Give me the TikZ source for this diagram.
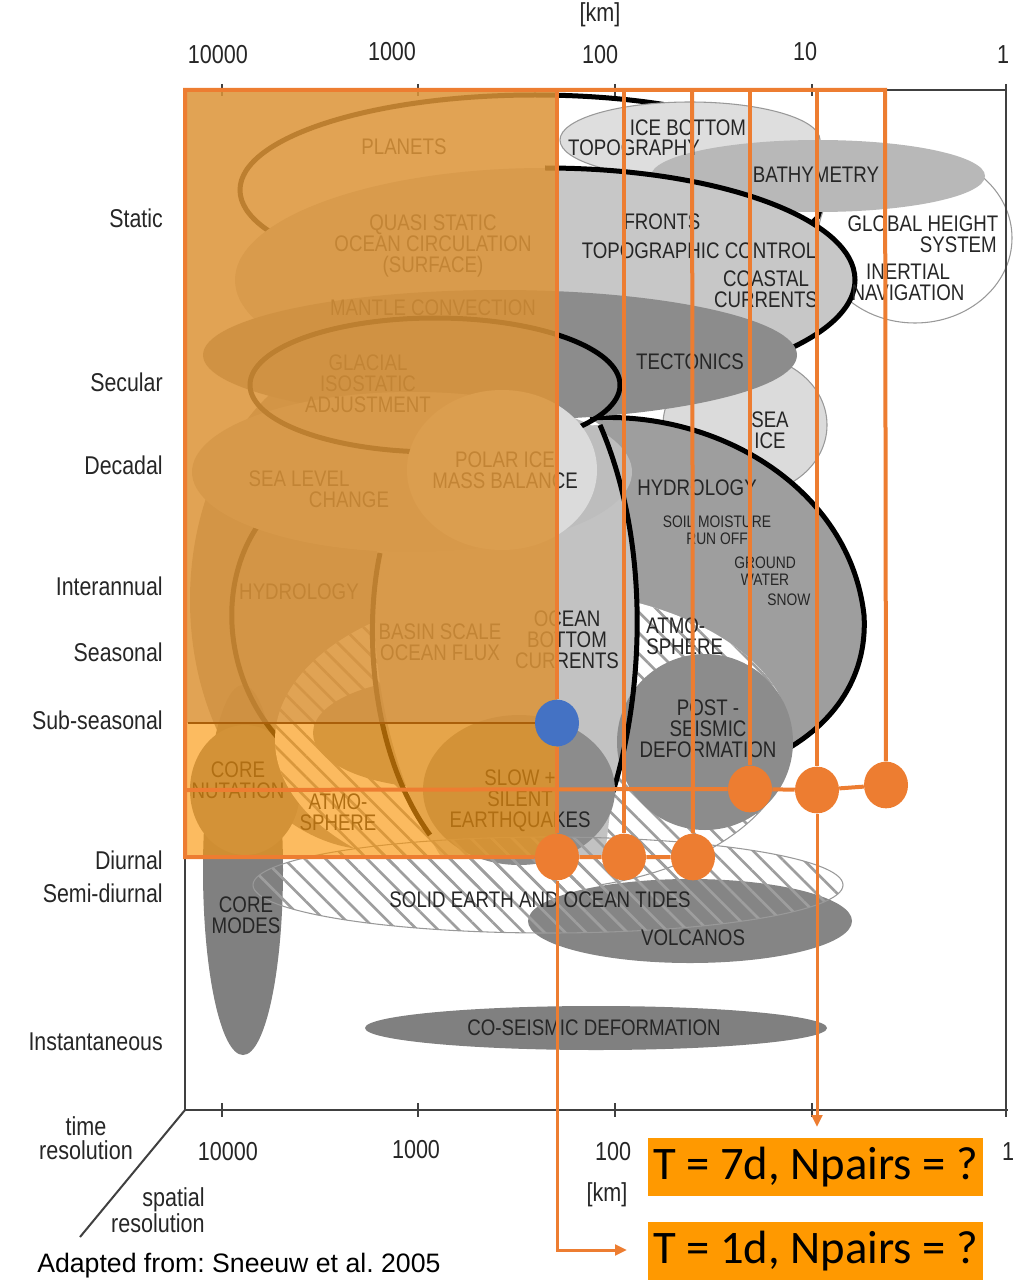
\documentclass[tikz,border=0pt]{standalone}
\usepackage{fontspec}
\setmainfont{Liberation Sans}[FakeStretch=0.83]
\newfontfamily\plainsans{Liberation Sans}
\newfontfamily\boxfont{Carlito}
\usetikzlibrary{arrows.meta,shapes.geometric,patterns.meta}
\frenchspacing

\definecolor{accent}{RGB}{237,125,49}
\definecolor{dotblue}{RGB}{68,114,196}
\definecolor{boxorange}{RGB}{255,153,0}
\definecolor{shadeup}{RGB}{220,148,56}
\definecolor{shadelow}{RGB}{250,150,10}
\definecolor{rimline}{RGB}{170,95,10}

\begin{document}
\begin{tikzpicture}[x=0.75pt,y=-0.75pt,>={Triangle[length=9pt,width=8pt]},
 lab/.style={font=\fontsize{16.9}{15.75}\selectfont,text=black!85,align=center,inner sep=0pt},
 small/.style={lab,font=\fontsize{12.5}{12.75}\selectfont},
 tres/.style={font=\fontsize{19.3}{22}\selectfont,text=black!85,anchor=east,inner sep=0pt},
 num/.style={font=\fontsize{19.5}{18}\selectfont,text=black!85,inner sep=0pt,align=center},
 rim/.style={draw=black!40,line width=0.8pt},
 fat/.style={draw=black,line width=3.75pt},
 hatch/.style={pattern={Lines[angle=-45,distance=11pt,line width=2pt]},pattern color=black!38},
 axis/.style={draw=black!75,line width=1.5pt},
 oline/.style={draw=accent,line width=3pt},
 aline/.style={draw=accent,line width=2.25pt,->},
 dot/.style={ellipse,fill=accent,minimum width=33pt,minimum height=35pt,inner sep=0pt},
 box/.style={fill=boxorange,anchor=north west,minimum width=251pt,minimum height=43pt,inner sep=0pt,
  font=\boxfont\fontsize{35}{40}\selectfont}]
\useasboundingbox (0,0) rectangle (1020,1280);

 % static and secular
 \draw[fat] (535,190) ellipse [x radius=295,y radius=95];
 \fill[black!13] (690,140) ellipse [x radius=130,y radius=38];
 \draw[rim] (690,140) ellipse [x radius=130,y radius=38];
 \draw[rim,fill=white] (915,238) ellipse [x radius=97,y radius=85];
 \fill[black!28] (818,176) ellipse [x radius=167,y radius=36];
 \fill[black!22] (545,280) ellipse [x radius=310,y radius=112];
 \draw[fat] (545,168) arc [start angle=-90,end angle=45,x radius=310,y radius=112];
 \fill[black!14] (745,425) ellipse [x radius=82,y radius=70];
 \draw[rim] (745,425) ellipse [x radius=82,y radius=70];

 % decadal to sub-seasonal
 \fill[black!38] (375,600) ellipse [x radius=185,y radius=250];
 \fill[black!50] (243,870) ellipse [x radius=40,y radius=185];
 \fill[black!45] (245,790) ellipse [x radius=55,y radius=65];
 \draw[fat] (257,527) .. controls (215,590) and (225,690) .. (290,750);
 \fill[black!38] (590,418) .. controls (720,410) and (850,490) .. (864,615)
  .. controls (868,680) and (830,730) .. (770,758) -- (612,795)
  .. controls (645,690) and (650,540) .. (600,425) -- cycle;
 \path[preaction={fill=white},hatch] (533,740) ellipse [x radius=258,y radius=150];
 \draw[rim] (791,740) arc [start angle=0,end angle=75,x radius=258,y radius=150];
 \fill[black!40] (440,733) ellipse [x radius=127,y radius=55];
 \fill[black!24] (382,520) .. controls (362,620) and (380,760) .. (440,855) -- (605,855) -- (612,795)
  .. controls (645,690) and (650,540) .. (600,425) -- (470,430) -- cycle;
 \draw[fat] (380,553) .. controls (362,640) and (375,760) .. (430,835);
 \draw[fat] (590,418) .. controls (720,410) and (850,490) .. (864,615)
  .. controls (868,680) and (830,730) .. (770,758);
 \fill[black!45] (500,355) ellipse [x radius=297,y radius=65];
 \fill[black!26] (412,472) ellipse [x radius=220,y radius=80];
 \draw[fat] (435,385) ellipse [x radius=185,y radius=67];
 \fill[black!14] (502,470) ellipse [x radius=95,y radius=80];

 % short periods
 \fill[black!45] (705,742) ellipse [x radius=88,y radius=88];
 \draw[fat] (612,795) .. controls (645,690) and (650,540) .. (600,425);
 \fill[black!45] (519,790) ellipse [x radius=96,y radius=75];
 \fill[black!48] (690,921) ellipse [x radius=162,y radius=42];
 \draw[rim,hatch] (548,885) ellipse [x radius=295,y radius=48];
 \fill[black!50] (596,1028) ellipse [x radius=231,y radius=22];

 % axes
 \draw[axis] (185,90) -- (1006,90) -- (1006,1110);
 \draw[axis,line width=2pt] (185,90) -- (185,1110) -- (1008,1110);
 \draw[axis] (185,1110) -- (80,1237);
 \foreach \t in {222,418,615,812,1006} {
  \draw[axis] (\t,84) -- (\t,96);
  \draw[axis] (\t,1103) -- (\t,1117);
 }

 % labels of the chart
 \node[lab] (planets) at (404,147) {PLANETS};
 \node[lab] (icebot) at (688,128) {ICE BOTTOM};
 \node[lab] (topo) at (634,148) {TOPOGRAPHY};
 \node[lab] (bathy) at (816,175) {BATHYMETRY};
 \node[lab] (ghs) at (923,224) {GLOBAL HEIGHT};
 \node[lab,anchor=east] (ghs2) at (997,245) {SYSTEM};
 \node[lab] (inert) at (908,282) {INERTIAL\\NAVIGATION};
 \node[lab] (quasi) at (433,246) {QUASI STATIC\\OCEAN CIRCULATION\\(SURFACE)};
 \node[lab] (fronts) at (662,222) {FRONTS};
 \node[lab] (topoctl) at (699,251) {TOPOGRAPHIC CONTROL};
 \node[lab] (coastal) at (766,289) {COASTAL\\CURRENTS};
 \node[lab] (mantle) at (433,308) {MANTLE CONVECTION};
 \node[lab] (tecto) at (690,362) {TECTONICS};
 \node[lab] (gia) at (368,384) {GLACIAL\\ISOSTATIC\\ADJUSTMENT};
 \node[lab] (seaice) at (770,430) {SEA\\ICE};
 \node[lab] (sealvl) at (299,479) {SEA LEVEL};
 \node[lab] (sealvl2) at (349,500) {CHANGE};
 \node[lab] (polar) at (505,470) {POLAR ICE\\MASS BALANCE};
 \node[lab] (hydro) at (697,488) {HYDROLOGY};
 \node[small] (soil) at (717,530) {SOIL MOISTURE\\RUN OFF};
 \node[small] (ground) at (765,571) {GROUND\\WATER};
 \node[small] (snow) at (789,600) {SNOW};
 \node[lab] (hydroL) at (299,592) {HYDROLOGY};
 \node[lab] (basin) at (440,642) {BASIN SCALE\\OCEAN FLUX};
 \node[lab] (obc) at (567,640) {OCEAN\\BOTTOM\\CURRENTS};
 \node[lab,anchor=west,align=left] (atmoR) at (646,636) {ATMO-\\SPHERE};
 \node[lab] (post) at (708,729) {POST -\\SEISMIC\\DEFORMATION};
 \node[lab] (nutation) at (238,780) {CORE\\NUTATION};
 \node[lab] (atmoL) at (338,812) {ATMO-\\SPHERE};
 \node[lab] (slow) at (520,801) {SLOW +\\SILENT\\EARTHQUAKES};
 \node[lab] (tides) at (540,900) {SOLID EARTH AND OCEAN TIDES};
 \node[lab] (coremodes) at (246,915) {CORE\\MODES};
 \node[lab] (volc) at (693,938) {VOLCANOS};
 \node[lab] (coseis) at (594,1028) {CO-SEISMIC DEFORMATION};

 % time resolution
 \node[tres] (static) at (163,218) {Static};
 \node[tres] (secular) at (163,382) {Secular};
 \node[tres] (decadal) at (163,465) {Decadal};
 \node[tres] (interann) at (163,586) {Interannual};
 \node[tres] (seasonal) at (163,652) {Seasonal};
 \node[tres] (subseas) at (163,720) {Sub-seasonal};
 \node[tres] (diurnal) at (163,860) {Diurnal};
 \node[tres] (semidiur) at (163,893) {Semi-diurnal};
 \node[tres] (instant) at (163,1042) {Instantaneous};

 % spatial resolution
 \node[num] (kmtop) at (600,15) {[km]};
 \node[num] (top1) at (218,55) {10000};
 \node[num] (top2) at (392,52) {1000};
 \node[num] (top3) at (600,55) {100};
 \node[num] (top4) at (805,52) {10};
 \node[num] (top5) at (1003,55) {1};
 \node[num] (bot1) at (228,1152) {10000};
 \node[num] (bot2) at (416,1150) {1000};
 \node[num] (bot3) at (613,1152) {100};
 \node[num] (kmbot) at (607,1195) {[km]};
 \node[num] (bot5) at (1008,1152) {1};
 \node[num] (timeres) at (86,1138) {time\\resolution};
 \node[num,anchor=east,align=right] (spatres) at (205,1210) {spatial\\resolution};

 % selected window
 \fill[shadeup,fill opacity=0.86] (185,90) rectangle (557,723);
 \fill[shadelow,fill opacity=0.65] (185,723) rectangle (557,857);

 \coordinate (c0) at (185,90);
 \coordinate (l1) at (185,790);
 \coordinate (l2) at (185,857);
 \coordinate (s0) at (188,723);
 \foreach \n/\x in {t1/557,t2/624,t3/692,t4/750,t5/817,t6/885}
  \coordinate (\n) at (\x,90);
 \coordinate (k1) at (557,1250);
 \coordinate (a1) at (627,1250);
 \coordinate (a7) at (817,1127);

 \node[dot] (p1) at (557,857) {};
 \node[dot] (p2) at (624,857) {};
 \node[dot] (p3) at (693,857) {};
 \node[dot] (q1) at (750,789) {};
 \node[dot] (q2) at (817,790) {};
 \node[dot] (q3) at (886,785) {};
 \node[dot,fill=dotblue] (b0) at (557,723) {};

 \draw[rimline,line width=1.5pt] (s0) -- (b0);
 \draw[oline] (p3) -- (p2) -- (p1) -- (l2) -- (c0) -- (t6) -- (q3);
 \draw[oline] (q3) -- (q2) -- (q1) -- (l1);
 \foreach \a/\b in {t2/p2,t3/p3,t4/q1,t5/q2}
  \draw[oline] (\a) -- (\b);
 \draw[oline] (t1) -- (b0);
 \draw[oline] (b0) -- (p1);
 \draw[aline] (p1) -- (k1) -- (a1);
 \draw[aline] (q2) -- (a7);

 \node[box] (n7) at (648,1138) {T = 7d, Npairs = ?};
 \node[box] (n1) at (648,1222) {T = 1d, Npairs = ?};
 \node[anchor=west,inner sep=0pt,font=\plainsans\fontsize{20}{24}\selectfont] (source) at (37,1266)
  {Adapted from: Sneeuw et al. 2005};
\end{tikzpicture}
\end{document}
